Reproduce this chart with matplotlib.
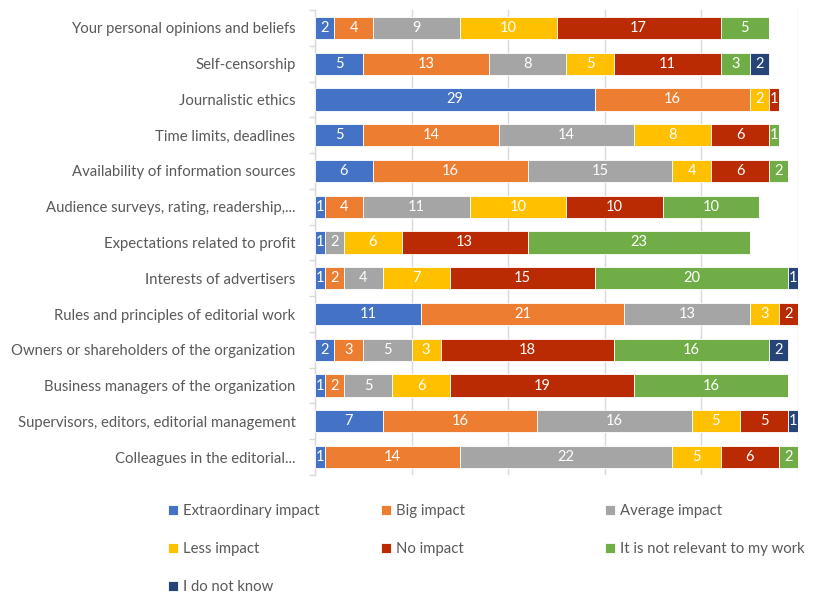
import matplotlib
matplotlib.use("Agg")
import matplotlib.pyplot as plt
import numpy as np

plt.rcParams['font.family'] = ['Lato', 'DejaVu Sans']

categories = [
    "Your personal opinions and beliefs",
    "Self-censorship",
    "Journalistic ethics",
    "Time limits, deadlines",
    "Availability of information sources",
    "Audience surveys, rating, readership,...",
    "Expectations related to profit",
    "Interests of advertisers",
    "Rules and principles of editorial work",
    "Owners or shareholders of the organization",
    "Business managers of the organization",
    "Supervisors, editors, editorial management",
    "Colleagues in the editorial...",
]

series_names = [
    "Extraordinary impact",
    "Big impact",
    "Average impact",
    "Less impact",
    "No impact",
    "It is not relevant to my work",
    "I do not know",
]

extraordinary = [2, 5, 29, 5, 6, 1, 1, 1, 11, 2, 1, 7, 1]
big = [4, 13, 16, 14, 16, 4, 0, 2, 21, 3, 2, 16, 14]
average = [9, 8, 0, 14, 15, 11, 2, 4, 13, 5, 5, 16, 22]
less = [10, 5, 2, 8, 4, 10, 6, 7, 3, 3, 6, 5, 5]
no_impact = [17, 11, 1, 6, 6, 10, 13, 15, 2, 18, 19, 5, 6]
not_relevant = [5, 3, 0, 1, 2, 10, 23, 20, 0, 16, 16, 0, 2]
dont_know = [0, 2, 0, 0, 0, 0, 0, 1, 0, 2, 0, 1, 0]

series = [extraordinary, big, average, less, no_impact, not_relevant, dont_know]
colors = ["#4472C4", "#ED7D31", "#A5A5A5", "#FFC000", "#BA2B04", "#70AD47", "#264478"]

fig = plt.figure(figsize=(8.14, 5.95), dpi=100)
ax = fig.add_axes([315 / 814, 1 - 475 / 595, (798 - 315) / 814, (475 - 10) / 595])

y = np.arange(len(categories))
left = np.zeros(len(categories))
handles = []
for name, vals, col in zip(series_names, series, colors):
    vals = np.array(vals, dtype=float)
    bars = ax.barh(y, vals, left=left, height=0.62, color=col,
                   edgecolor="white", linewidth=0.6, label=name, zorder=3)
    handles.append(bars)
    for yi, l, v in zip(y, left, vals):
        if v > 0:
            ax.text(l + v / 2, yi, f"{int(v)}", ha="center", va="center",
                    color="white", fontsize=10.5, zorder=4)
    left += vals

ax.set_xlim(0, 50)
ax.set_ylim(len(categories) - 0.5, -0.5)
ax.set_xticks(np.arange(0, 51, 10))
ax.tick_params(axis="x", length=0, labelbottom=False)
ax.grid(axis="x", color="#D9D9D9", linewidth=1, zorder=0)

ax.set_yticks(y)
ax.set_yticklabels(categories, fontsize=10.7, color="#595959")
ax.tick_params(axis="y", which="major", length=0, pad=14)
ax.set_yticks(np.arange(-0.5, len(categories), 1), minor=True)
ax.tick_params(axis="y", which="minor", length=4, color="#D9D9D9", width=1)

for s in ["top", "right", "bottom"]:
    ax.spines[s].set_visible(False)
ax.spines["left"].set_color("#D9D9D9")
ax.spines["left"].set_linewidth(1)

# Legend laid out row by row in three fixed columns
col_x = [168, 381, 605]
columns = [[0, 3, 6], [1, 4], [2, 5]]
for cx, idxs in zip(col_x, columns):
    fig.legend(handles=[handles[i] for i in idxs],
               labels=[series_names[i] for i in idxs],
               loc="upper left", bbox_to_anchor=(cx / 814, 1 - 504 / 595),
               ncol=1, frameon=False, fontsize=10.7, labelcolor="#595959",
               handlelength=0.7, handleheight=0.7, handletextpad=0.3,
               labelspacing=1.62, borderaxespad=0, borderpad=0)

fig.savefig("out.png", dpi=100)
